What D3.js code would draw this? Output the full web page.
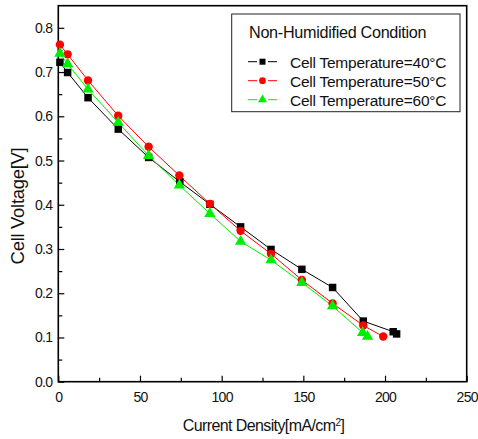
<!DOCTYPE html>
<html>
<head>
<meta charset="utf-8">
<script src="https://cdn.jsdelivr.net/npm/d3@7"></script>
<style>
  body { margin: 0; background: #fff; }
  svg text { font-family: "Liberation Sans", Arial, sans-serif; fill: #111; }
</style>
</head>
<body>
<svg id="chart" width="478" height="439"></svg>
<script>
// données
const current40 = [1, 5.7, 18.2, 36.7, 55.3, 74.4, 92.8, 111.6, 130.2, 149.1, 167.9, 186.7, 205, 207.1];
const voltage40 = [0.722, 0.699, 0.642, 0.571, 0.507, 0.452, 0.401, 0.350, 0.299, 0.254, 0.213, 0.137, 0.113, 0.108];
const current50 = [1, 5.7, 18.2, 36.7, 55.3, 74.1, 92.8, 111.6, 130.2, 149.1, 167.9, 186.7, 198.9];
const voltage50 = [0.762, 0.740, 0.681, 0.601, 0.531, 0.466, 0.402, 0.341, 0.289, 0.230, 0.177, 0.127, 0.102];
const current60 = [1, 5.7, 18.2, 36.7, 55.3, 74.1, 92.8, 111.6, 130.2, 149.1, 167.9, 186.3, 189.3];
const voltage60 = [0.742, 0.718, 0.661, 0.586, 0.511, 0.444, 0.380, 0.317, 0.275, 0.224, 0.171, 0.111, 0.102];

const seriesNames = ["Cell Temperature=40°C", "Cell Temperature=50°C", "Cell Temperature=60°C"];
const xTicks = [0, 50, 100, 150, 200, 250];
const yTicks = [0.0, 0.1, 0.2, 0.3, 0.4, 0.5, 0.6, 0.7, 0.8];

const series = [
  { name: seriesNames[0], x: current40, y: voltage40, color: "#000000", symbol: d3.symbolSquare, size: 56 },
  { name: seriesNames[1], x: current50, y: voltage50, color: "#ff0000", symbol: d3.symbolCircle, size: 56 },
  { name: seriesNames[2], x: current60, y: voltage60, color: "#00ee00", symbol: d3.symbolTriangle, size: 56 }
];

const svg = d3.select("#chart");
const margin = { left: 58.3, top: 5.7, right: 478 - 466.7, bottom: 439 - 381.7 };
const width = 478 - margin.left - margin.right;
const height = 439 - margin.top - margin.bottom;

const g = svg.append("g").attr("transform", `translate(${margin.left},${margin.top})`);

const x = d3.scaleLinear().domain([0, 250]).range([0, width]);
const y = d3.scaleLinear().domain([0, 0.85]).range([height, 0]);

// cadre
g.append("rect")
  .attr("width", width).attr("height", height)
  .attr("fill", "none").attr("stroke", "#000").attr("stroke-width", 1.6);

// axes (graduations vers l'intérieur)
g.append("g").attr("transform", `translate(0,${height})`)
  .call(d3.axisBottom(x).tickValues(xTicks).tickSize(-6).tickPadding(10).tickFormat(d3.format("d")));
g.append("g").attr("transform", `translate(0,${height})`)
  .call(d3.axisBottom(x).tickValues(d3.range(25, 250, 50)).tickSize(-4).tickFormat(""));

g.append("g")
  .call(d3.axisLeft(y).tickValues(yTicks).tickSize(-6).tickPadding(6).tickFormat(d3.format(".1f")));
g.append("g")
  .call(d3.axisLeft(y).tickValues(d3.range(0.05, 0.85, 0.1)).tickSize(-4).tickFormat(""));

svg.selectAll(".domain").remove();
svg.selectAll(".tick line").attr("stroke", "#000").attr("stroke-width", 1.2);
svg.selectAll(".tick text").attr("font-size", 14).attr("fill", "#111")
  .attr("font-family", "Liberation Sans, Arial, sans-serif").attr("letter-spacing", -0.7);

// titres des axes
svg.append("text")
  .attr("x", margin.left + width / 2 + 1).attr("y", 431)
  .attr("text-anchor", "middle").attr("font-size", 16).attr("letter-spacing", -0.6)
  .html('Current Density[mA/cm<tspan baseline-shift="super" font-size="10">2</tspan>]');

svg.append("text")
  .attr("transform", "translate(24,206) rotate(-90)")
  .attr("text-anchor", "middle").attr("font-size", 18.5).attr("letter-spacing", -0.3)
  .text("Cell Voltage[V]");

// courbes
const line = d3.line().x(d => x(d[0])).y(d => y(d[1]));

series.forEach(s => {
  const pts = s.x.map((v, i) => [v, s.y[i]]);
  g.append("path").datum(pts)
    .attr("d", line).attr("fill", "none")
    .attr("stroke", s.color).attr("stroke-width", 1);
});

series.forEach(s => {
  const pts = s.x.map((v, i) => [v, s.y[i]]);
  g.selectAll(null).data(pts).join("path")
    .attr("transform", d => `translate(${x(d[0])},${y(d[1])})`)
    .attr("d", d3.symbol().type(s.symbol).size(s.size))
    .attr("fill", s.color);
});

// légende
const leg = svg.append("g");
leg.append("rect")
  .attr("x", 231.7).attr("y", 14).attr("width", 228.3).attr("height", 97.7)
  .attr("fill", "#fff").attr("stroke", "#222").attr("stroke-width", 1);
leg.append("text").attr("x", 249).attr("y", 38)
  .attr("font-size", 16.2).attr("letter-spacing", -0.3)
  .text("Non-Humidified Condition");

series.forEach((s, i) => {
  const yy = 61.7 + i * 19;
  [[248, 257], [268, 277]].forEach(([a, b]) => {
    leg.append("line").attr("x1", a).attr("x2", b).attr("y1", yy).attr("y2", yy)
      .attr("stroke", s.color).attr("stroke-width", 1);
  });
  leg.append("path").attr("transform", `translate(262.5,${yy})`)
    .attr("d", d3.symbol().type(s.symbol).size(36))
    .attr("fill", s.color);
  leg.append("text").attr("x", 290).attr("y", yy + 6)
    .attr("font-size", 15.5).attr("letter-spacing", -0.25)
    .text(s.name);
});
</script>
</body>
</html>
